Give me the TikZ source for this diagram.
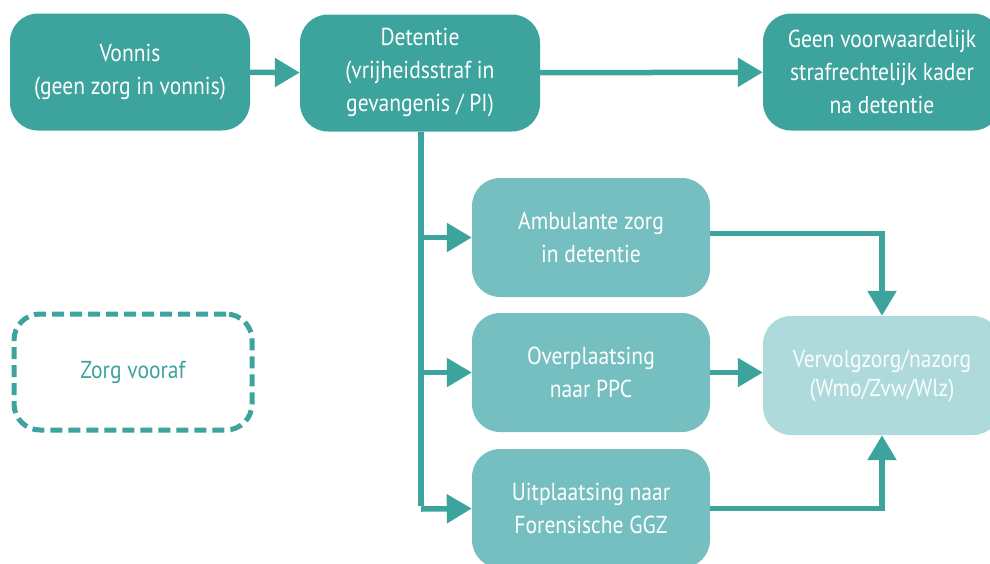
\documentclass[tikz,border=0pt]{standalone}
\usepackage{fontspec}
\setmainfont[FakeStretch=0.88]{PT Sans}
\usetikzlibrary{arrows.meta}
\definecolor{tealdark}{RGB}{61,163,157}
\definecolor{tealmid}{RGB}{117,191,193}
\definecolor{teallight}{RGB}{174,218,219}
\begin{document}
\begin{tikzpicture}[x=1pt,y=-1pt,
  box/.style={rounded corners=28pt, minimum width=240pt, minimum height=117pt,
    align=center, text=white, font=\fontsize{24.5}{33}\selectfont, inner sep=0pt},
  darkbox/.style={box, fill=tealdark},
  midbox/.style={box, fill=tealmid, minimum width=238pt, minimum height=119pt},
  lightbox/.style={box, fill=teallight, minimum width=238pt, minimum height=119pt,
    text=white!94!teallight, font=\fontsize{24.5}{29}\selectfont},
  dashbox/.style={box, draw=tealdark, line width=5pt, dash pattern=on 12pt off 6pt,
    text=tealdark, minimum width=238pt, minimum height=116pt, rounded corners=26pt},
  flow/.style={draw=tealdark, line width=5.5pt,
    -{Triangle[length=25pt,width=28pt,fill=tealdark]}},
  trunk/.style={draw=tealdark, line width=5.5pt}]
\useasboundingbox (0,0) rectangle (990,563);

\node[darkbox] (vonnis) at (130,72) {Vonnis\\(geen zorg in vonnis)};
\node[darkbox] (detentie) at (420,73) {Detentie\\(vrijheidsstraf in\\gevangenis / PI)};
\node[darkbox, minimum width=238pt] (geen) at (882,72) {Geen voorwaardelijk\\strafrechtelijk kader\\na detentie};

\node[midbox] (ambulant) at (591,237.5) {Ambulante zorg\\in detentie};
\node[midbox] (ppc) at (591,372.5) {Overplaatsing\\naar PPC};
\node[midbox] (ggz) at (591,508.5) {Uitplaatsing naar\\Forensische GGZ};

\node[lightbox] (nazorg) at (882,375.5) {Vervolgzorg/nazorg\\(Wmo/Zvw/Wlz)};

\node[dashbox] (vooraf) at (133,372) {Zorg vooraf};

% top row
\draw[flow] (vonnis) -- (detentie);
\draw[flow] (detentie) -- (geen);

% trunk from detention with three branches
\coordinate (tb) at (421,509);
\draw[trunk] (detentie.south -| tb) -- ([yshift=2.75pt]tb);
\draw[flow] (ambulant.west -| tb) -- (ambulant.west);
\draw[flow] (ppc.west -| tb) -- (ppc.west);
\draw[flow] (tb) -- (ggz.west);

% into follow-up care
\draw[flow] ([yshift=4pt]ambulant.east) -| (nazorg.north);
\draw[flow] (ppc.east) -- (nazorg.west |- ppc.east);
\draw[flow] (ggz.east) -| (nazorg.south);
\end{tikzpicture}
\end{document}
